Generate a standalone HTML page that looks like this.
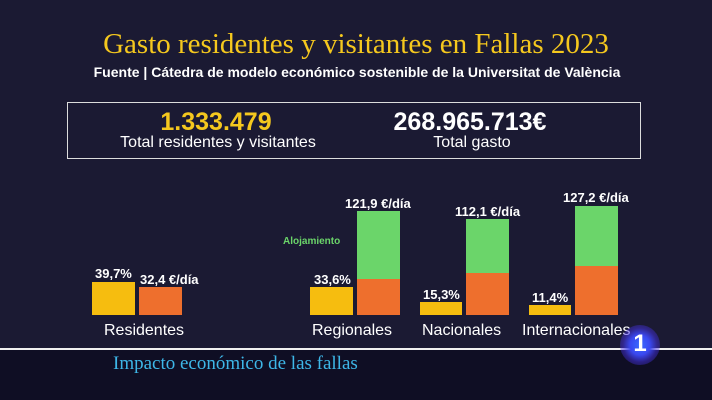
<!DOCTYPE html>
<html><head><meta charset="utf-8"><style>
body{margin:0;width:712px;height:400px;overflow:hidden;background:#1b1a33;font-family:"Liberation Sans",sans-serif;position:relative}
.a{position:absolute;white-space:nowrap}
.c{transform:translateX(-50%)}
.b{position:absolute}
.y{background:#f6bd0f}.o{background:#ee6f2d}.g{background:#6bd56a}
.v{color:#fff;font-size:13px;font-weight:bold}
.l{color:#fff;font-size:16px;top:322px}
</style></head><body>
<div class="a c" style="left:356px;top:28px;color:#f5c81e;font-family:'Liberation Serif',serif;font-size:29px">Gasto residentes y visitantes en Fallas 2023</div>
<div class="a c" style="left:357px;top:64px;color:#fff;font-size:14px;font-weight:bold">Fuente | Cátedra de modelo económico sostenible de la Universitat de València</div>
<div class="b" style="left:67px;top:102px;width:572px;height:55px;border:1px solid #ddd"></div>
<div class="a c" style="left:216px;top:108px;color:#f5c81e;font-size:25px;font-weight:bold">1.333.479</div>
<div class="a c" style="left:218px;top:134px;color:#fff;font-size:16px">Total residentes y visitantes</div>
<div class="a c" style="left:470px;top:108px;color:#fff;font-size:25px;font-weight:bold">268.965.713€</div>
<div class="a c" style="left:472px;top:134px;color:#fff;font-size:16px">Total gasto</div>

<div class="b y" style="left:92px;top:282px;width:43px;height:33px"></div>
<div class="b o" style="left:139px;top:287px;width:43px;height:28px"></div>
<div class="a v" style="left:95px;top:266px">39,7%</div>
<div class="a v" style="left:140px;top:272px">32,4 €/día</div>

<div class="b y" style="left:310px;top:287px;width:43px;height:28px"></div>
<div class="b g" style="left:357px;top:211px;width:43px;height:68px"></div>
<div class="b o" style="left:357px;top:279px;width:43px;height:36px"></div>
<div class="a v" style="left:314px;top:272px">33,6%</div>
<div class="a v" style="left:345px;top:196px">121,9 €/día</div>
<div class="a" style="left:283px;top:236px;color:#6bd56a;font-size:10px;font-weight:bold">Alojamiento</div>

<div class="b y" style="left:420px;top:302px;width:42px;height:13px"></div>
<div class="b g" style="left:466px;top:219px;width:43px;height:54px"></div>
<div class="b o" style="left:466px;top:273px;width:43px;height:42px"></div>
<div class="a v" style="left:423px;top:287px">15,3%</div>
<div class="a v" style="left:455px;top:204px">112,1 €/día</div>

<div class="b y" style="left:529px;top:305px;width:42px;height:10px"></div>
<div class="b g" style="left:575px;top:206px;width:43px;height:60px"></div>
<div class="b o" style="left:575px;top:266px;width:43px;height:49px"></div>
<div class="a v" style="left:532px;top:290px">11,4%</div>
<div class="a v" style="left:563px;top:190px">127,2 €/día</div>

<div class="a l" style="left:104px">Residentes</div>
<div class="a l" style="left:312px">Regionales</div>
<div class="a l" style="left:422px">Nacionales</div>
<div class="a l" style="left:522px">Internacionales</div>

<div class="b" style="left:0;top:350px;width:712px;height:50px;background:#0f0e24"></div>
<div class="b" style="left:0;top:348px;width:712px;height:2px;background:#f0f0f0"></div>
<div class="a" style="left:113px;top:353px;color:#3eb7e8;font-family:'Liberation Serif',serif;font-size:19px">Impacto económico de las fallas</div>
<div class="b" style="left:620px;top:325px;width:40px;height:40px;border-radius:50%;background:radial-gradient(circle,#3a6cff 0%,#3a48f0 35%,rgba(70,50,230,0.5) 60%,rgba(0,0,0,0) 100%)"></div>
<div class="a c" style="left:640px;top:330px;color:#fff;font-size:24px;font-weight:bold">1</div>
</body></html>
